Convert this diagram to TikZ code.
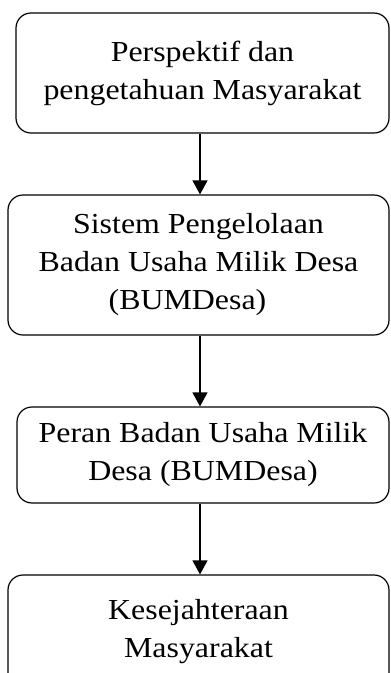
\documentclass[tikz,border=0pt]{standalone}
\usepackage{fontspec}
\setmainfont{Liberation Serif}[FakeStretch=1.1]
\usetikzlibrary{arrows.meta,positioning}

\tikzset{
    flowbox/.style={draw, line width=1.2pt, rounded corners=15pt, align=center,
        inner sep=0pt, font=\fontsize{29}{38}\selectfont},
    flowarrow/.style={-{Triangle[width=15pt,length=14pt]}, line width=1.2pt}
}

\begin{document}
\begin{tikzpicture}[x=1pt, y=-1pt]
        \useasboundingbox (0,0) rectangle (391,673);

        % Boxes
        \node[flowbox, minimum width=373pt, minimum height=120pt] (persp) at (202.5,73)
            {Perspektif dan\\pengetahuan Masyarakat};
        \node[flowbox, minimum width=381pt, minimum height=140pt] (sistem) at (198.5,265)
            {Sistem Pengelolaan\\Badan Usaha Milik Desa\hspace*{18pt}\\(BUMDesa)\hspace*{22pt}};
        \node[flowbox, minimum width=372pt, minimum height=96pt] (peran) at (203,455)
            {Peran Badan Usaha Milik\\Desa (BUMDesa)};
        \node[flowbox, minimum width=381pt, minimum height=114pt] (sejahtera) at (198.5,632)
            {Kesejahteraan\\Masyarakat};

        % Arrows
        \coordinate (axis) at (200,0);
        \draw[flowarrow] (persp.south -| axis) -- (sistem.north -| axis);
        \draw[flowarrow] (sistem.south -| axis) -- (peran.north -| axis);
        \draw[flowarrow] (peran.south -| axis) -- (sejahtera.north -| axis);
    \end{tikzpicture}
\end{document}
